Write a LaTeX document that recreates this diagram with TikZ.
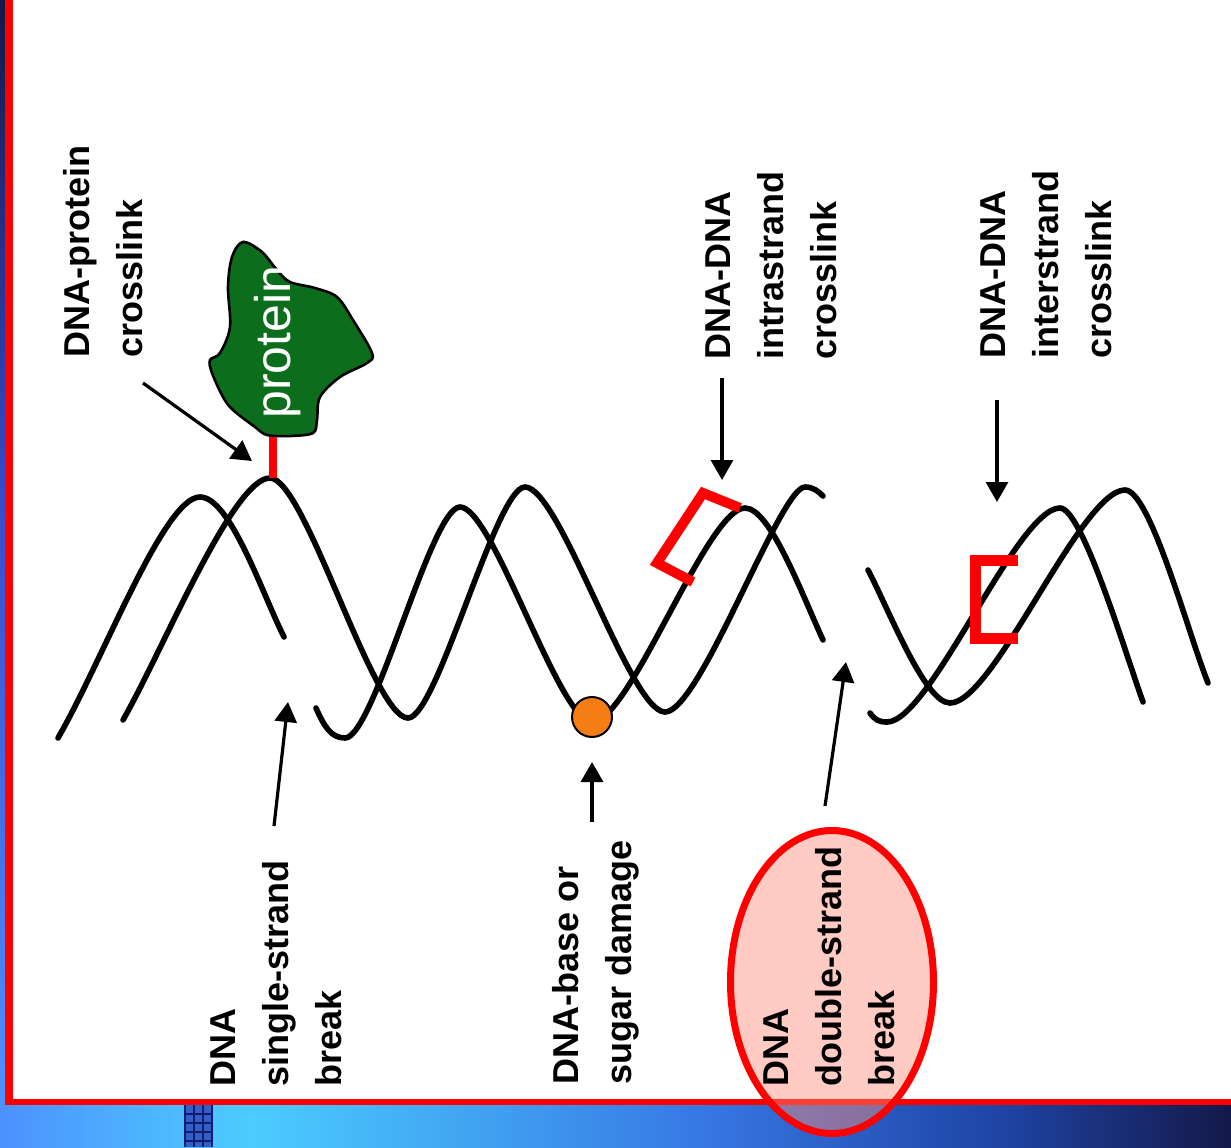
\documentclass[tikz,border=0pt]{standalone}
\usepackage{fontspec}
\setmainfont{Liberation Sans}
\usetikzlibrary{arrows.meta}

\definecolor{navy}{RGB}{20,24,72}
\definecolor{midblue}{RGB}{55,75,205}
\definecolor{lightblue}{RGB}{78,145,255}
\definecolor{cyanblue}{RGB}{75,205,255}
\definecolor{deepblue}{RGB}{55,120,228}
\definecolor{darkblue}{RGB}{30,68,165}
\definecolor{frame}{RGB}{255,0,0}
\definecolor{proteingreen}{RGB}{12,110,28}
\definecolor{damage}{RGB}{245,125,20}
\definecolor{salmon}{RGB}{255,140,120}
\definecolor{gridblue}{RGB}{50,95,200}
\definecolor{gridline}{RGB}{20,30,110}

\begin{document}
\begin{tikzpicture}[x=0.5pt,y=-0.5pt,
  strand/.style={line width=2.8pt, line cap=round, black},
  xlink/.style={line width=5pt, frame, line join=miter},
  pointer/.style={line width=1.6pt, black, -{Triangle[length=10pt,width=11pt]}},
  dmglabel/.style={rotate=90, anchor=north west, inner sep=0pt, align=left,
    font=\bfseries\fontsize{18pt}{26.5pt}\selectfont, text=black},
]
\useasboundingbox (0,0) rectangle (1231,1147);

% slide background
\fill[white] (0,0) rectangle (1231,1147);
\shade[top color=navy, bottom color=midblue] (0,0) rectangle (6,500);
\shade[top color=midblue, bottom color=lightblue] (0,500) rectangle (6,1105);
\shade[left color=lightblue, right color=cyanblue] (0,1105) rectangle (250,1147);
\shade[left color=cyanblue, right color=deepblue] (250,1105) rectangle (700,1147);
\shade[left color=deepblue, right color=darkblue] (700,1105) rectangle (1000,1147);
\shade[left color=darkblue, right color=navy] (1000,1105) rectangle (1231,1147);

% small chequered block under the frame
\fill[gridblue] (185,1105) rectangle (212,1147);
\foreach \gx in {185,194,203,212} \draw[gridline, line width=0.6pt] (\gx,1105) -- (\gx,1147);
\foreach \gy in {1114,1123,1132,1141} \draw[gridline, line width=0.6pt] (185,\gy) -- (212,\gy);

% red frame
\draw[frame, line width=4pt] (9,0) -- (9,1105);
\draw[frame, line width=3pt] (5,1102) -- (1231,1102);

% protein blob
\draw[line width=1.3pt, fill=proteingreen] plot[smooth cycle, tension=0.55] coordinates {
  (243,242) (262,252) (277,270) (290,282) (315,288) (337,297) (353,320) (372,353)
  (367,363) (340,377) (320,397) (317,420) (313,433) (290,436) (267,435) (255,427)
  (233,410) (223,397) (212,373) (210,360) (220,353) (230,327) (228,287) (232,257)};
\node[rotate=90, anchor=base, text=white, inner sep=0pt,
  font=\fontsize{25pt}{30pt}\selectfont] (protein) at (290,342) {protein};

% DNA strands, left piece
\draw[strand] (58,738) .. controls +(45,-78) and +(-36,0) .. (200,497)
  .. controls +(30,0) and +(-22,-44) .. (284,637);
\draw[strand] (123,720) .. controls +(40,-70) and +(-37,0) .. (270,478)
  .. controls +(35,0) and +(-35,0) .. (408,718)
  .. controls +(29,0) and +(-29,0) .. (525,487)
  .. controls +(35,0) and +(-35,0) .. (665,712)
  .. controls +(35,0) and +(-25,0) .. (805,487)
  .. controls +(8,0) and +(-5,-5) .. (823,496);
% middle piece after the single-strand break
\draw[strand] (316,708) .. controls +(8,18) and +(-14,0) .. (345,738)
  .. controls +(29,0) and +(-29,0) .. (460,507)
  .. controls +(33,0) and +(-33,0) .. (592,722)
  .. controls +(38,0) and +(-38,0) .. (745,508)
  .. controls +(25,0) and +(-22,-48) .. (823,640);
% right piece after the double-strand break
\draw[strand] (868,570) .. controls +(22,42) and +(-25,0) .. (950,703)
  .. controls +(44,0) and +(-44,0) .. (1125,490)
  .. controls +(25,0) and +(-20,-50) .. (1208,683);
\draw[strand] (870,713) .. controls +(5,7) and +(-8,0) .. (887,722)
  .. controls +(43,0) and +(-43,0) .. (1060,508)
  .. controls +(22,0) and +(-18,-50) .. (1143,702);

% crosslinks
\draw[xlink, line width=3.8pt] (273,437) -- (273,478);
\draw[xlink] (740,508) -- (703,493) -- (657,563) -- (693,582);
\draw[xlink, line width=5.5pt] (1018,560) -- (975,560) -- (975,638) -- (1018,638);

% damaged base
\node[circle, draw, fill=damage, line width=1pt, minimum size=20pt, inner sep=0pt] (lesion) at (592,717) {};

% double-strand break highlight
\path[fill=salmon, fill opacity=0.45] (832,982) ellipse[x radius=101.5, y radius=151.5];

% labels
\node[dmglabel] (lblprot) at (63,358) {DNA-protein\\crosslink};
\node[dmglabel] (lblssb) at (210,1087) {DNA\\single-strand\\break};
\node[dmglabel] (lblbase) at (552,1085) {DNA-base or\\sugar damage};
\node[dmglabel] (lbldsb) at (763,1087) {DNA\\double-strand\\break};
\node[dmglabel] (lblintra) at (705,360) {DNA-DNA\\intrastrand\\crosslink};
\node[dmglabel] (lblinter) at (980,359) {DNA-DNA\\interstrand\\crosslink};

\draw[frame, line width=3.5pt] (832,982) ellipse[x radius=101.5, y radius=151.5];

% pointers
\coordinate (pA0) at (143,383); \coordinate (pA1) at (252,461);
\coordinate (pB0) at (274,826); \coordinate (pB1) at (288,702);
\coordinate (pC0) at (592,822); \coordinate (pC1) at (592,762);
\coordinate (pD0) at (825,806); \coordinate (pD1) at (846,662);
\coordinate (pE0) at (722,378); \coordinate (pE1) at (722,480);
\coordinate (pF0) at (997,400); \coordinate (pF1) at (997,502);
\draw[pointer] (pA0) -- (pA1);
\draw[pointer] (pB0) -- (pB1);
\draw[pointer] (pC0) -- (pC1);
\draw[pointer] (pD0) -- (pD1);
\draw[pointer] (pE0) -- (pE1);
\draw[pointer] (pF0) -- (pF1);
\end{tikzpicture}
\end{document}
